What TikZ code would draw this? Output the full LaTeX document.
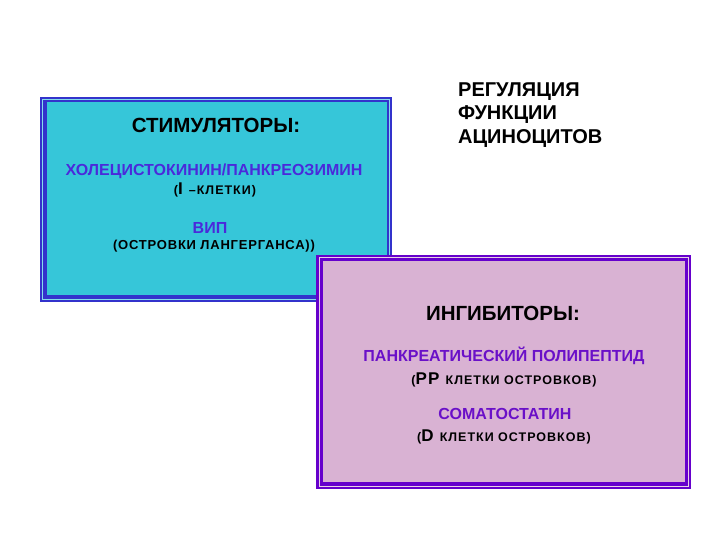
\documentclass[tikz,border=0pt]{standalone}
\usepackage{fontspec}
\setmainfont{Liberation Sans}
\definecolor{bluebord}{HTML}{3333CC}
\definecolor{cyanfill}{HTML}{36C6D9}
\definecolor{purpbord}{HTML}{6600CC}
\definecolor{pinkfill}{HTML}{D9B2D3}
\definecolor{bluetext}{HTML}{4A2ADB}
\definecolor{purptext}{HTML}{6A10C8}
\begin{document}
\begin{tikzpicture}[x=1pt,y=-1pt,
  lbl/.style={inner sep=0pt,font=\bfseries},
  head/.style={lbl,font=\fontsize{20.5}{24}\selectfont\bfseries},
  item/.style={lbl,font=\fontsize{16}{19}\selectfont\bfseries},
  sub/.style={lbl,font=\fontsize{12.5}{15}\selectfont\bfseries\addfontfeature{LetterSpace=8}}]
\useasboundingbox (0,0) rectangle (720,540);
\fill[white] (0,0) rectangle (720,540);
% box 1
\fill[bluebord] (40,97) rectangle (392,302);
\draw[cyanfill!60!white,line width=0.8pt] (42.5,99.5) rectangle (389.5,299);
\fill[cyanfill] (47,102) rectangle (387,295);
\node (b1) at (216,200) {};
% box 2
\fill[purpbord] (316,255) rectangle (691,489);
\draw[pinkfill!60!white,line width=0.8pt] (319,257.5) rectangle (688.5,486);
\fill[pinkfill] (323,261) rectangle (685,482);
\node (b2) at (503,372) {};
% title
\node[lbl,anchor=west,align=left,font=\fontsize{20}{23.5}\selectfont\bfseries] (title) at (458,115) {РЕГУЛЯЦИЯ\\ФУНКЦИИ\\АЦИНОЦИТОВ};
% box 1 texts
\node[head] (stim) at (216,125) {СТИМУЛЯТОРЫ:};
\node[item,text=bluetext] (chol) at (214,171) {ХОЛЕЦИСТОКИНИН/ПАНКРЕОЗИМИН};
\node[sub] (icell) at (215,190) {(\fontsize{17}{16}\selectfont I \fontsize{12.5}{15}\selectfont –КЛЕТКИ)};
\node[item,text=bluetext] (vip) at (210,228) {ВИП};
\node[sub,font=\fontsize{13}{16}\selectfont\bfseries\addfontfeature{LetterSpace=6}] (lang) at (214,246) {(ОСТРОВКИ ЛАНГЕРГАНСА))};
% box 2 texts
\node[head] (inh) at (503,313) {ИНГИБИТОРЫ:};
\node[item,text=purptext] (pp) at (504,356) {ПАНКРЕАТИЧЕСКИЙ ПОЛИПЕПТИД};
\node[sub] (ppc) at (504,380) {(\fontsize{17}{16}\selectfont PP \fontsize{12.5}{15}\selectfont КЛЕТКИ ОСТРОВКОВ)};
\node[item,text=purptext] (som) at (505,414) {СОМАТОСТАТИН};
\node[sub] (dc) at (504,437) {(\fontsize{17}{16}\selectfont D \fontsize{12.5}{15}\selectfont КЛЕТКИ ОСТРОВКОВ)};
\end{tikzpicture}
\end{document}
